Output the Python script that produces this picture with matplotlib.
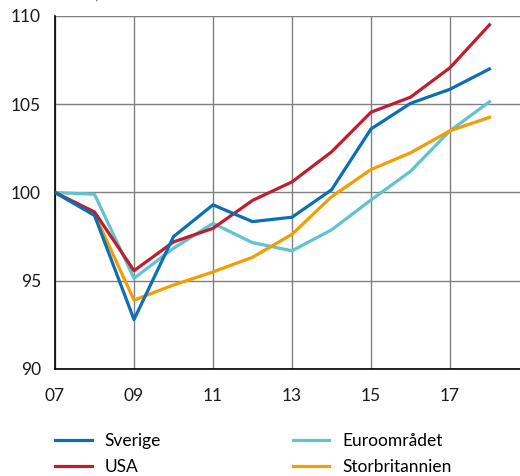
import matplotlib
matplotlib.use("Agg")
import matplotlib.pyplot as plt

years = [2007, 2008, 2009, 2010, 2011, 2012, 2013, 2014, 2015, 2016, 2017, 2018]
sverige = [100, 98.7, 92.8, 97.5, 99.3, 98.35, 98.6, 100.15, 103.6, 105.05, 105.85, 107.0]
usa = [100, 98.9, 95.57, 97.2, 97.97, 99.55, 100.6, 102.3, 104.55, 105.4, 107.07, 109.5]
euro = [100, 99.9, 95.14, 96.84, 98.25, 97.16, 96.7, 97.88, 99.58, 101.2, 103.5, 105.14]
uk = [100, 98.78, 93.9, 94.76, 95.5, 96.33, 97.63, 99.76, 101.3, 102.25, 103.5, 104.26]

xticks = [2007, 2009, 2011, 2013, 2015, 2017]
xticklabels = ["07", "09", "11", "13", "15", "17"]
yticks = [90, 95, 100, 105, 110]

plt.rcParams["font.family"] = ["Lato", "DejaVu Sans"]

fig = plt.figure(figsize=(5.2, 4.76), dpi=100)
ax = fig.add_axes([55 / 520, 1 - 369 / 476, 1 - 55 / 520, (369 - 16) / 476])

lw = 2.3
ax.plot(years, sverige, color="#0a6fb4", lw=lw, label="Sverige", zorder=4)
ax.plot(years, usa, color="#bf1e2e", lw=lw, label="USA", zorder=3)
ax.plot(years, euro, color="#5fc3d0", lw=lw, label="Euroområdet", zorder=2)
ax.plot(years, uk, color="#f59d00", lw=lw, label="Storbritannien", zorder=2)

ax.set_xlim(2007, 2007 + (520 - 55) / 39.5)
ax.set_ylim(90, 110)
ax.set_xticks(xticks)
ax.set_xticklabels(xticklabels)
ax.set_yticks(yticks)
ax.tick_params(length=0, labelsize=12.5, colors="#1a1a1a")
ax.tick_params(axis="y", pad=10)
ax.tick_params(axis="x", pad=14)

ax.grid(True, color="#808080", lw=1, zorder=0)
ax.set_axisbelow(True)
for s in ["top", "right"]:
    ax.spines[s].set_visible(False)
ax.spines["left"].set_color("black")
ax.spines["bottom"].set_color("black")
ax.spines["left"].set_linewidth(1.2)
ax.spines["bottom"].set_linewidth(1.2)

# unit label, mostly above the top edge as in the source
fig.text(55 / 520, 1 + 1 / 476, "Index, 2007 = 100", fontsize=12, va="baseline",
         ha="left", color="#1a1a1a")

handles, labels = ax.get_legend_handles_labels()
leg = fig.legend(handles, labels,
                 loc="upper left", bbox_to_anchor=(50 / 520, 1 - 428 / 476),
                 ncol=2, frameon=False, fontsize=12.5, handlelength=2.1,
                 handletextpad=0.75, columnspacing=7.6, labelspacing=0.55,
                 borderaxespad=0, borderpad=0.3)

fig.savefig("out.png", dpi=100)
